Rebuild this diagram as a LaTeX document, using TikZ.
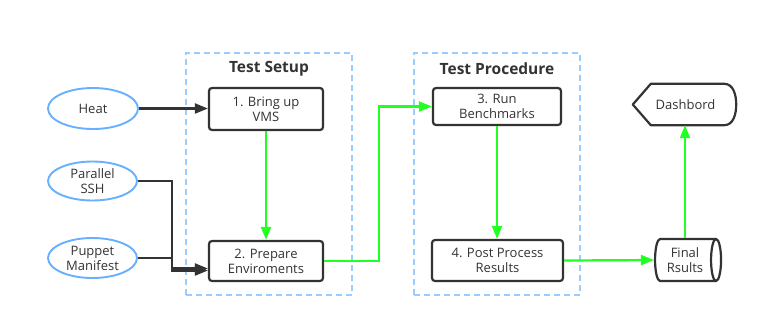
\documentclass[tikz,border=0pt]{standalone}
\usepackage{fontspec}
\setmainfont{Open Sans}
\usetikzlibrary{arrows.meta,shapes.geometric}
\definecolor{dk}{HTML}{333333}
\definecolor{lb}{HTML}{66B0FF}
\definecolor{db}{HTML}{99CCFF}
\definecolor{gr}{HTML}{22FF22}
\tikzset{
  stepbox/.style={draw=dk,line width=2.2pt,rounded corners=3pt,inner sep=0pt,align=center,text=dk,font=\fontsize{13}{15}\selectfont},
  tool/.style={ellipse,draw=lb,line width=1.9pt,inner sep=0pt,align=center,text=dk,font=\fontsize{13}{15}\selectfont},
  group/.style={draw=db,line width=1.5pt,dash pattern=on 6pt off 4pt},
  gtitle/.style={text=dk,font=\bfseries\fontsize{15.5}{18}\selectfont},
  darr/.style={draw=dk,line width=2.2pt,-{Triangle[length=13pt,width=10pt]}},
  garr/.style={draw=gr,line width=2.2pt,-{Triangle[length=13pt,width=10pt]}},
}
\begin{document}
\begin{tikzpicture}[x=1pt,y=-1pt]
\useasboundingbox (0,0) rectangle (770,327);
% groups
\node[group,minimum width=166pt,minimum height=242pt,inner sep=0pt] (gsetup) at (269,174) {};
\node[group,minimum width=166pt,minimum height=242pt,inner sep=0pt] (gproc) at (497,174) {};
\node[gtitle] (tsetup) at (269,69) {Test Setup};
\node[gtitle] (tproc) at (497,69) {Test Procedure};
% steps
\node[stepbox,minimum width=114pt,minimum height=42pt] (s1) at (266,109) {1. Bring up\\VMS};
\node[stepbox,minimum width=114pt,minimum height=40pt] (s2) at (266,261) {2. Prepare\\Enviroments};
\node[stepbox,minimum width=128pt,minimum height=37pt] (s3) at (497,106.5) {3. Run\\Benchmarks};
\node[stepbox,minimum width=131pt,minimum height=41pt] (s4) at (497.5,260.5) {4. Post Process\\Results};
% tools
\node[tool,minimum width=90pt,minimum height=41pt] (heat) at (93,108.5) {Heat};
\node[tool,minimum width=89pt,minimum height=39pt] (ssh) at (92.5,181) {Parallel\\SSH};
\node[tool,minimum width=89pt,minimum height=40pt] (pup) at (92.5,258) {Puppet\\Manifest};
% final results
\node[cylinder,draw=dk,line width=2.2pt,shape aspect=0.4,minimum height=66pt,minimum width=42pt,inner sep=0pt,align=center,text=dk,font=\fontsize{13}{15}\selectfont] (fin) at (685,260) {Final\\Rsults};
% dashboard
\node[minimum width=105pt,minimum height=41pt,inner sep=0pt,text=dk,font=\fontsize{13}{15}\selectfont] (dash) at (685.5,104.5) {Dashbord};
\draw[dk,line width=2.2pt,line join=round] ([xshift=18pt]dash.north west) -- ([xshift=-14pt]dash.north east)
  to[out=0,in=90] ([xshift=-2pt]dash.east) to[out=-90,in=0] ([xshift=-14pt]dash.south east)
  -- ([xshift=18pt]dash.south west) -- (dash.west) -- cycle;
% connectors
\coordinate (jn) at (172,0);
\draw[darr] (heat.east) -- (heat.east -| s1.west);
\draw[darr] (ssh.east) -| ([yshift=-9.5pt]jn |- s2.west) -- ([yshift=-9.5pt]s2.west);
\draw[darr] (pup.east) -| ([yshift=-7.5pt]jn |- s2.west) -- ([yshift=-7.5pt]s2.west);
\coordinate (gx) at (379,0);
\draw[garr] (s1.south) -- (s2.north);
\draw[garr] (s2.east) -| (gx |- s3.west) -- (s3.west);
\draw[garr] (s3.south) -- (s3.south |- s4.north);
\draw[garr] (s4.east) -- (fin.west);
\draw[garr] (fin.north) -- (fin.north |- dash.south);
\end{tikzpicture}
\end{document}
